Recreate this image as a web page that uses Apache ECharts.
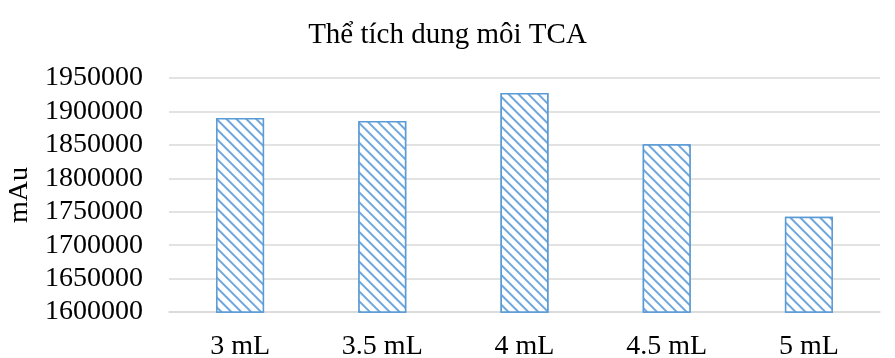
<!DOCTYPE html>
<html lang="en">
<head>
  <meta charset="UTF-8">
  <script src="https://cdn.jsdelivr.net/npm/echarts@6/dist/echarts.min.js"></script>
  <style>
    html, body { margin: 0; padding: 0; background: #fff; }
    #main { width: 895px; height: 358px; }
  </style>
</head>
<body>
  <div id="main"></div>
  <script type="text/javascript">
    var categories = ['3 mL', '3.5 mL', '4 mL', '4.5 mL', '5 mL'];
    var values = [1890000, 1885500, 1927500, 1851000, 1742500];
    var yMin = 1600000, yMax = 1950000, yStep = 50000;

    var font = '"Liberation Serif", "Times New Roman", serif';
    var chart = echarts.init(document.getElementById('main'));

    chart.setOption({
      backgroundColor: '#fff',
      animation: false,
      title: {
        text: 'Thể tích dung môi TCA',
        left: 'center',
        top: 16,
        textStyle: { fontFamily: font, fontSize: 29, fontWeight: 'normal', color: '#000' }
      },
      grid: { left: 169, right: 15, top: 78, bottom: 46, outerBoundsMode: 'none' },
      xAxis: {
        type: 'category',
        data: categories,
        axisLine: { lineStyle: { color: '#d9d9d9', width: 1.5 } },
        axisTick: { show: false },
        axisLabel: { fontFamily: font, fontSize: 28, color: '#000', margin: 21 }
      },
      yAxis: {
        type: 'value',
        min: yMin,
        max: yMax,
        interval: yStep,
        name: 'mAu',
        nameLocation: 'middle',
        nameGap: 135,
        nameRotate: 90,
        nameTextStyle: { fontFamily: font, fontSize: 28, color: '#000' },
        axisLine: { show: false },
        axisTick: { show: false },
        splitLine: { lineStyle: { color: '#d9d9d9', width: 1.5 } },
        axisLabel: {
          fontFamily: font, fontSize: 28, color: '#000', margin: 26,
          formatter: function (v) { return String(v); }
        }
      },
      series: [{
        type: 'bar',
        data: values,
        barWidth: 48,
        itemStyle: {
          color: '#fff',
          borderColor: '#5b9bd5',
          borderWidth: 1.5,
          decal: {
            symbol: 'rect',
            color: '#6fa7dc',
            backgroundColor: '#fff',
            dashArrayX: [1, 0],
            dashArrayY: [2, 5],
            rotation: Math.PI / 4
          }
        }
      }]
    });
  </script>
</body>
</html>
